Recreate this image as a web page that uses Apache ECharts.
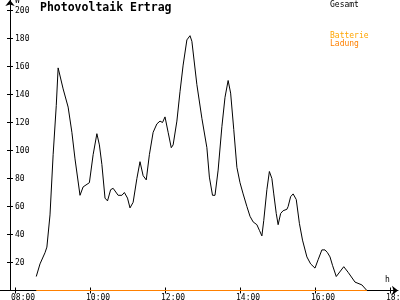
<!DOCTYPE html>
<html><head><meta charset="utf-8">
<script src="https://cdn.jsdelivr.net/npm/echarts@6/dist/echarts.min.js"></script>
<style>html,body{margin:0;padding:0;background:#fff}#c{width:400px;height:300px}</style>
</head><body><div id="c"></div>
<script>
const times = ['08:34','08:40','08:48','08:51','08:56','09:01','09:06','09:09','09:17','09:25','09:31','09:36','09:44','09:49','09:59',
'10:05','10:11','10:15','10:19','10:24','10:28','10:33','10:37','10:45','10:51','10:55','11:00','11:04','11:09','11:15','11:20','11:25','11:30','11:35','11:41','11:47','11:52','11:56',
'12:00','12:05','12:10','12:13','12:19','12:24','12:29','12:35','12:40','12:43','12:51','12:59','13:07','13:11','13:16','13:20','13:25','13:31','13:36','13:41','13:45','13:50','13:55',
'14:00','14:05','14:11','14:16','14:21','14:27','14:31','14:35','14:38','14:43','14:47','14:51','14:54','14:58','15:01','15:05','15:09','15:15','15:17','15:21','15:25','15:30','15:35','15:40','15:47','15:53',
'16:00','16:05','16:11','16:16','16:20','16:24','16:28','16:34','16:46','16:53','17:04','17:15','17:23'];
const gesamt = [10,19,27,31,54,97,132,159,144,131,113,94,68,74,77,
97,112,104,90,66,64,72,73,68,68,70,66,59,63,80,92,82,79,97,113,119,121,120,
124,113,102,104,121,142,161,179,182,178,147,123,102,81,68,68,86,117,138,150,141,115,88,
77,69,60,53,49,47,43,39,50,72,85,80,69,55,47,55,57,58,60,67,69,65,48,36,24,19,
16,22,29,29,27,24,18,10,17,13,6,4,0];
const batterieTimes = ['08:34','17:23'];
const batterieLadung = [0,0];
const xTickLabels = ['08:00','10:00','12:00','14:00','16:00','18:00'];
const yTicks = [20,40,60,80,100,120,140,160,180,200];

const toMin = s => { const p = s.split(':'); return (+p[0])*60 + (+p[1]); };
const pad = n => (n<10?'0':'') + n;
const fmt = v => pad(Math.floor(v/60)) + ':' + pad(Math.round(v%60));
const xTicks = xTickLabels.map(toMin);
const FONT = 'DejaVu Sans Mono';

const chart = echarts.init(document.getElementById('c'), null, {renderer:'canvas'});
const xBase = {type:'value', min:456, max:1092.8, position:'bottom', splitLine:{show:false}};
const yBase = {type:'value', min:0, max:207.5, position:'left', offset:-10, splitLine:{show:false}};
chart.setOption({
  animation:false,
  backgroundColor:'#fff',
  title:{text:'Photovoltaik Ertrag', left:40, top:2, padding:0,
    textStyle:{fontFamily:FONT, fontSize:11.5, fontWeight:'bold', color:'#000'}},
  grid:{left:0, right:2, top:0, bottom:9.5, containLabel:false, outerBoundsMode:'none'},
  xAxis:[
    Object.assign({}, xBase, {
      axisLine:{show:true, onZero:false, lineStyle:{color:'#000', width:1}, symbol:['none','arrow'], symbolSize:[7,6]},
      axisTick:{show:true, inside:true, length:3, customValues:xTicks, lineStyle:{color:'#000'}},
      axisLabel:{show:true, customValues:xTicks, formatter:fmt, align:'left', margin:3, padding:[0,0,0,-4],
        fontSize:8, fontFamily:FONT, color:'#000'}
    }),
    Object.assign({}, xBase, {
      axisLine:{show:false, onZero:false},
      axisTick:{show:true, inside:false, length:3, customValues:xTicks, lineStyle:{color:'#000'}},
      axisLabel:{show:false}
    })
  ],
  yAxis:[
    Object.assign({}, yBase, {
      axisLine:{show:true, onZero:false, lineStyle:{color:'#000', width:1}, symbol:['none','arrow'], symbolSize:[7,6]},
      axisTick:{show:true, inside:true, length:3, customValues:yTicks, lineStyle:{color:'#000'}},
      axisLabel:{show:true, inside:true, margin:5, customValues:yTicks, fontSize:8, fontFamily:FONT, color:'#000'}
    }),
    Object.assign({}, yBase, {
      axisLine:{show:false, onZero:false},
      axisTick:{show:true, inside:false, length:3, customValues:yTicks, lineStyle:{color:'#000'}},
      axisLabel:{show:false}
    })
  ],
  graphic:[
    {type:'text', x:15, y:-3, style:{text:'W', fill:'#000', font:'8px '+FONT}},
    {type:'text', x:385, y:276, style:{text:'h', fill:'#000', font:'8px '+FONT}},
    {type:'text', x:330, y:1, style:{text:'Gesamt', fill:'#000', font:'8px '+FONT}},
    {type:'text', x:330, y:32, style:{text:'Batterie', fill:'#ffa500', font:'8px '+FONT}},
    {type:'text', x:330, y:40, style:{text:'Ladung', fill:'#ff8000', font:'8px '+FONT}}
  ],
  series:[
    {name:'Gesamt', type:'line', xAxisIndex:0, yAxisIndex:0, clip:false, symbol:'none',
     data:times.map((t,i)=>[toMin(t), gesamt[i]]), lineStyle:{color:'#000', width:1}, itemStyle:{color:'#000'}, z:3},
    {name:'Batterie Ladung', type:'line', xAxisIndex:0, yAxisIndex:0, clip:false, symbol:'none',
     data:batterieTimes.map((t,i)=>[toMin(t), batterieLadung[i]]), lineStyle:{color:'#ff8000', width:1}, itemStyle:{color:'#ff8000'}, z:4}
  ]
});
</script>
</body></html>
